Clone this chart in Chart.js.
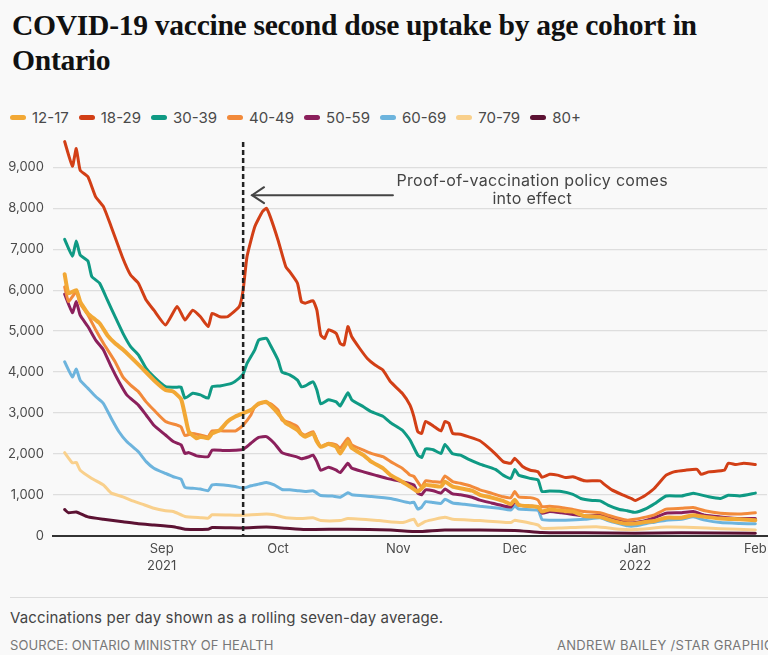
<!DOCTYPE html>
<html>
<head>
<meta charset="utf-8">
<script src="https://cdn.jsdelivr.net/npm/chart.js@4.4.1/dist/chart.umd.min.js"></script>
<style>
  html, body { margin: 0; padding: 0; background: #f9f9f9; }
  body { width: 768px; height: 655px; position: relative; overflow: hidden; font-family: Inter, "Noto Sans", sans-serif; }
  #title { position: absolute; left: 12px; top: 8px; margin: 0; font-family: "Liberation Serif", serif; font-weight: bold; font-size: 29.6px; line-height: 35px; color: #111; letter-spacing: -0.3px; white-space: nowrap; }
  #legend { position: absolute; left: 10px; top: 108px; display: flex; font-size: 15px; color: #4a4a4a; white-space: nowrap; }
  .item { display: flex; align-items: center; margin-right: 10px; }
  .sw { width: 16px; height: 5px; border-radius: 3px; margin-right: 6px; }
  #chartwrap { position: absolute; left: 0; top: 130px; width: 768px; height: 460px; }
  #sep { position: absolute; left: 10px; top: 597px; width: 758px; height: 1px; background: #ddd; }
  #note { position: absolute; left: 10px; top: 608px; font-size: 15px; letter-spacing: 0.15px; color: #444; white-space: nowrap; }
  #source { position: absolute; left: 10px; top: 637px; font-size: 13px; letter-spacing: 0.1px; color: #777; white-space: nowrap; }
  #credit { position: absolute; left: 557px; top: 637px; font-size: 13px; letter-spacing: 0.3px; color: #777; white-space: nowrap; }
</style>
</head>
<body>
<h1 id="title">COVID-19 vaccine second dose uptake by age cohort in<br>Ontario</h1>
<div id="legend"></div>
<div id="chartwrap"><canvas id="c" width="768" height="460"></canvas></div>
<div id="sep"></div>
<div id="note">Vaccinations per day shown as a rolling seven-day average.</div>
<div id="source">SOURCE: ONTARIO MINISTRY OF HEALTH</div>
<div id="credit">ANDREW BAILEY /STAR GRAPHIC</div>
<script>
// x values are days since Aug 1, 2021 (Sep 1 = 31, Feb 1 2022 = 184)
const seriesNames = ['12-17','18-29','30-39','40-49','50-59','60-69','70-79','80+'];

const days_12_17 = [6,7,9,10,12,15,17,19,21,23,26,29,32,34,36,37,38,40,41,43,44,46,48,50,52,54,56,58,59,61,63,64,66,67,68,70,71,72,74,76,77,79,80,83,85,88,90,93,95,97,99,101,103,104,106,108,111,113,116,119,121,122,123,126,128,129,131,135,137,140,144,146,149,151,153,156,158,161,165,168,171,175,180,184];
const vals_12_17 = [6390,5920,6000,5720,5430,5190,4900,4700,4550,4370,4090,3800,3560,3520,3340,2950,2540,2380,2420,2380,2500,2580,2790,2910,2990,3070,3230,3270,3190,2990,2750,2700,2580,2480,2420,2500,2300,2170,2240,2170,2010,2300,2140,1970,1810,1650,1480,1320,1200,1080,1240,1220,1200,1320,1200,1160,1100,1000,930,850,770,880,750,720,700,590,640,600,590,480,460,400,320,290,300,340,360,440,440,500,460,420,400,380];

const days_18_29 = [6,8,9,10,12,14,16,18,21,23,25,27,29,32,35,37,39,41,43,44,46,48,51,52,53,55,57,58,59,61,63,64,66,67,68,70,71,72,73,74,76,77,78,79,80,82,84,86,88,90,93,95,96,97,98,99,101,103,104,105,106,108,110,113,115,117,119,121,122,124,126,128,129,131,133,135,137,140,144,145,147,150,152,153,155,156,158,161,163,166,169,170,172,176,177,179,181,184];
const vals_18_29 = [9630,9030,9460,8930,8770,8280,8040,7550,6780,6370,6170,5760,5510,5150,5600,5270,5510,5350,5110,5430,5350,5350,5600,6000,6820,7550,7920,8000,7790,7220,6570,6450,6170,5720,5680,5740,5510,4900,4820,5030,4940,4700,4660,5110,4860,4580,4330,4170,4050,3760,3480,3190,2910,2540,2500,2790,2680,2560,2790,2750,2500,2480,2420,2320,2170,2000,1810,1770,1890,1690,1600,1560,1430,1500,1480,1420,1440,1340,1340,1260,1120,990,910,860,950,1010,1160,1480,1560,1600,1620,1500,1560,1600,1770,1740,1770,1740];

const days_30_39 = [6,8,9,10,12,13,15,17,19,21,23,25,27,29,32,35,36,37,39,41,43,44,46,49,51,52,53,55,56,58,59,61,62,64,66,67,68,70,71,72,74,76,77,79,80,83,85,88,90,93,95,97,98,99,101,103,104,106,108,110,113,117,119,121,122,123,126,128,129,131,134,137,139,142,144,146,149,151,153,156,158,161,165,168,172,175,177,180,184];
const vals_30_39 = [7240,6830,7200,6860,6710,6330,6170,5760,5350,4950,4620,4420,4090,3880,3640,3630,3630,3360,3480,3440,3360,3640,3660,3720,3850,3950,4210,4540,4780,4820,4660,4290,4000,3930,3800,3640,3660,3760,3560,3220,3320,3270,3170,3490,3320,3150,3030,2920,2760,2580,2340,1970,1910,2120,2100,2010,2230,2000,1970,1870,1750,1620,1480,1400,1620,1480,1400,1360,1080,1090,1080,1010,910,860,850,750,640,610,570,670,780,970,970,1040,950,910,990,970,1040];

const days_40_49 = [6,7,9,10,12,14,16,19,21,23,25,27,29,32,35,36,37,39,41,43,44,47,50,51,52,54,55,57,59,61,62,64,66,67,68,70,71,72,74,76,77,79,80,83,85,88,90,93,95,96,98,99,101,103,104,106,108,111,113,116,119,121,122,123,126,128,129,131,134,137,140,144,146,149,151,153,156,158,161,165,168,171,175,180,184];
const vals_40_49 = [6080,5720,5960,5680,5390,5030,4700,4250,3880,3680,3520,3270,3070,2790,2700,2660,2450,2500,2460,2420,2560,2560,2560,2620,2700,2950,3150,3250,3230,3070,2830,2760,2660,2500,2460,2540,2340,2170,2260,2220,2140,2380,2220,2090,2010,1930,1810,1650,1480,1450,1190,1340,1320,1310,1460,1320,1280,1200,1120,1040,950,930,1080,950,930,870,710,720,690,640,590,560,500,420,380,400,460,510,650,670,690,610,550,530,560];

const days_50_59 = [6,8,9,10,12,14,16,18,20,22,25,27,29,32,34,36,37,38,40,43,44,47,50,52,54,56,58,60,62,64,66,67,69,70,71,72,74,76,77,79,80,83,86,89,93,96,97,98,99,101,103,104,106,108,111,113,116,119,121,122,123,126,128,129,131,134,137,140,144,146,149,151,153,156,158,161,165,168,171,175,180,184];
const vals_50_59 = [5900,5450,5720,5390,5110,4780,4540,4130,3760,3440,3190,2950,2700,2460,2300,2220,2010,2030,1950,1930,2090,2080,2090,2110,2260,2400,2420,2260,2030,1970,1920,1880,1930,1970,1810,1600,1670,1600,1540,1770,1650,1560,1480,1400,1320,1240,1040,1000,1120,1100,1040,1140,1020,1000,940,870,800,730,700,830,750,720,700,550,590,560,520,480,500,440,370,320,320,380,440,550,560,590,500,460,420,420];

const days_60_69 = [6,8,9,10,12,14,16,18,20,22,25,27,29,32,34,36,37,39,41,43,44,47,50,52,54,56,58,60,62,64,66,68,70,71,72,75,77,79,80,85,90,95,96,97,98,99,101,103,104,106,109,113,118,121,122,123,128,129,131,135,140,144,146,149,151,153,156,158,161,165,168,171,175,180,184];
const vals_60_69 = [4250,3880,4070,3800,3600,3400,3230,2870,2540,2300,2050,1810,1650,1520,1440,1380,1180,1160,1140,1100,1240,1240,1200,1160,1220,1260,1300,1240,1130,1120,1100,1080,1100,1040,980,970,940,1050,1000,960,910,800,820,650,700,830,810,790,890,800,770,720,670,630,730,650,620,400,380,380,400,440,370,290,240,240,300,330,380,400,460,380,320,300,290];

const days_70_79 = [6,8,9,10,13,16,18,21,23,26,29,32,34,37,41,43,44,50,52,58,60,63,67,70,72,77,79,87,93,96,97,99,104,106,113,121,122,128,129,134,143,149,153,161,168,175,184];
const vals_70_79 = [2030,1780,1790,1600,1400,1240,1040,950,870,770,670,610,590,470,440,430,510,500,500,530,510,440,420,440,370,370,420,370,320,400,250,350,450,400,370,320,380,260,180,190,220,160,150,210,200,170,140];

const days_80 = [6,7,9,12,16,21,25,29,34,37,43,44,52,58,63,68,79,90,97,104,122,129,140,153,165,184];
const vals_80 = [640,560,580,460,400,340,290,260,220,160,160,200,190,210,180,150,160,140,100,140,130,80,70,60,70,60];

const seriesDays = [days_12_17, days_18_29, days_30_39, days_40_49, days_50_59, days_60_69, days_70_79, days_80];
const seriesVals = [vals_12_17, vals_18_29, vals_30_39, vals_40_49, vals_50_59, vals_60_69, vals_70_79, vals_80];
const seriesColors = ['#f2a835','#d23f16','#0f9a84','#f28a3b','#8b205c','#6db4dd','#f9d08c','#5c1233'];
const seriesWidths = [4,3,3,3,3,3,3,3];

const xTickDays = [31, 61, 92, 122, 153, 184];
const xTickLabels = [['Sep','2021'], 'Oct', 'Nov', 'Dec', ['Jan','2022'], 'Feb'];
const yTicks = [0,1000,2000,3000,4000,5000,6000,7000,8000,9000];

const policyDay = 52;           // Sep 22, 2021
const policyTopValue = 9620;
const arrowFromDay = 90.6, arrowToDay = 54.3, arrowValue = 8320;
const noteDay = 126.5;
const noteLines = ['Proof-of-vaccination policy comes', 'into effect'];
const noteValues = [8660, 8220];

// legend
const lg = document.getElementById('legend');
seriesNames.forEach((n, i) => {
  const it = document.createElement('div'); it.className = 'item';
  const sw = document.createElement('div'); sw.className = 'sw'; sw.style.background = seriesColors[i];
  const tx = document.createElement('span'); tx.textContent = n;
  it.appendChild(sw); it.appendChild(tx); lg.appendChild(it);
});

const datasets = seriesNames.map((n, i) => ({
  label: n,
  data: seriesDays[i].map((d, k) => ({x: d, y: seriesVals[i][k]})),
  borderColor: seriesColors[i],
  backgroundColor: seriesColors[i],
  borderWidth: seriesWidths[i],
  pointRadius: 0,
  tension: 0.15,
  borderJoinStyle: 'round',
  borderCapStyle: 'round',
  fill: false
}));

const annot = {
  id: 'annot',
  afterDatasetsDraw(chart) {
    const {ctx, scales: {x, y}} = chart;
    ctx.save();
    const px = x.getPixelForValue(policyDay);
    ctx.strokeStyle = '#222'; ctx.lineWidth = 2.5; ctx.setLineDash([5,3]);
    ctx.beginPath(); ctx.moveTo(px, y.getPixelForValue(policyTopValue)); ctx.lineTo(px, y.getPixelForValue(0)); ctx.stroke();
    ctx.setLineDash([]);
    const ay = y.getPixelForValue(arrowValue);
    const ax1 = x.getPixelForValue(arrowFromDay), ax2 = x.getPixelForValue(arrowToDay);
    ctx.strokeStyle = '#444'; ctx.lineWidth = 2; ctx.lineCap = 'round';
    ctx.beginPath(); ctx.moveTo(ax1, ay); ctx.lineTo(ax2, ay); ctx.stroke();
    ctx.beginPath(); ctx.moveTo(ax2 + 12, ay - 8); ctx.lineTo(ax2, ay); ctx.lineTo(ax2 + 12, ay + 8); ctx.stroke();
    ctx.fillStyle = '#444'; ctx.font = '16px Inter'; ctx.textAlign = 'center'; ctx.textBaseline = 'middle';
    try { ctx.letterSpacing = '0.3px'; } catch (e) {}
    const nx = x.getPixelForValue(noteDay);
    noteLines.forEach((t, i) => ctx.fillText(t, nx, y.getPixelForValue(noteValues[i])));
    ctx.restore();
  }
};

function build() {
  new Chart(document.getElementById('c'), {
    type: 'line',
    data: { datasets },
    plugins: [annot],
    options: {
      responsive: false,
      animation: false,
      devicePixelRatio: 1,
      layout: { padding: { top: 8.7, right: 1, left: 0, bottom: 0 } },
      plugins: { legend: { display: false }, tooltip: { enabled: false } },
      scales: {
        x: {
          type: 'linear', min: 3, max: 187,
          grid: { display: false, drawTicks: false },
          border: { display: true, color: '#333', width: 2 },
          afterBuildTicks: s => { s.ticks = xTickDays.map(v => ({value: v})); },
          afterFit: s => { s.height = 54.3; s.paddingLeft = 0; s.paddingRight = 0; },
          ticks: {
            padding: 5, color: '#4a4a4a', maxRotation: 0, autoSkip: false,
            font: { family: 'Inter', size: 13, lineHeight: '17px' },
            callback: (v, i) => xTickLabels[i]
          }
        },
        y: {
          min: 0, max: 9700,
          afterBuildTicks: s => { s.ticks = yTicks.map(v => ({value: v})); },
          afterFit: s => { s.width = 53; s.paddingTop = 0; s.paddingBottom = 0; },
          grid: { color: c => c.tick && c.tick.value === 0 ? 'rgba(0,0,0,0)' : '#dedede', lineWidth: 1.2, drawTicks: false },
          border: { display: false },
          ticks: {
            padding: 9, color: '#4a4a4a',
            font: { family: 'Inter', size: 13 },
            callback: v => v.toLocaleString('en-US')
          }
        }
      }
    }
  });
}
if (document.fonts && document.fonts.load) {
  Promise.all([document.fonts.load('13px Inter'), document.fonts.load('16px Inter')]).then(build, build);
} else { build(); }
</script>
</body>
</html>
